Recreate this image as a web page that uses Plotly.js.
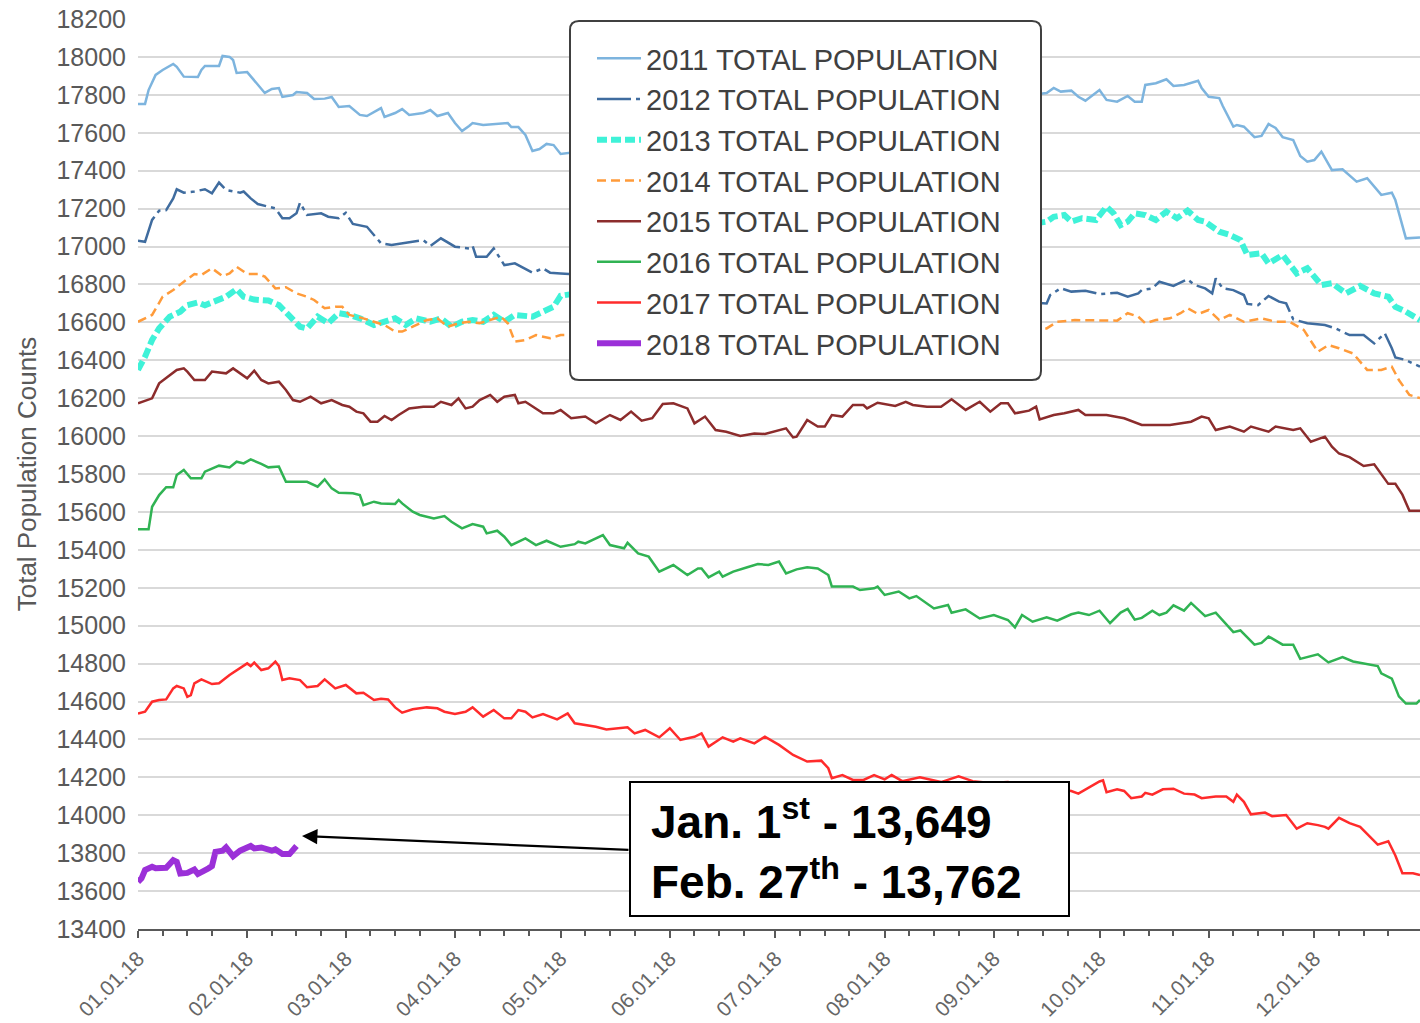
<!DOCTYPE html>
<html>
<head>
<meta charset="utf-8">
<script src="https://cdn.plot.ly/plotly-3.0.1.min.js"></script>
<style>html,body{margin:0;padding:0;background:#fff;}#chart{width:1420px;height:1023px;}</style>
</head>
<body>
<div id="chart"></div>
<script>
// ---- data (day offsets from 01.01.18) ----
const seriesNames = ["2011 TOTAL POPULATION","2012 TOTAL POPULATION","2013 TOTAL POPULATION","2014 TOTAL POPULATION","2015 TOTAL POPULATION","2016 TOTAL POPULATION","2017 TOTAL POPULATION","2018 TOTAL POPULATION"];
const monthLabels = ["01.01.18","02.01.18","03.01.18","04.01.18","05.01.18","06.01.18","07.01.18","08.01.18","09.01.18","10.01.18","11.01.18","12.01.18"];

const days2011 = [0,2,3,5,7,10,11,13,17,18,19,23,24,26,27,28,31,33,35,36,38,40,41,44,45,48,50,53,55,57,60,63,65,67,69,70,73,75,77,81,83,85,88,90,92,94,95,98,101,105,106,108,110,112,114,116,118,120,
 258,260,262,265,267,269,273,275,278,281,283,285,286,289,292,294,297,301,302,304,307,308,311,312,314,317,319,321,323,325,328,330,332,334,336,339,342,346,349,353,356,357,360,364];
const pop2011 = [17752,17752,17825,17905,17931,17963,17948,17896,17894,17931,17952,17952,18005,18000,17984,17915,17920,17878,17831,17810,17831,17836,17789,17799,17815,17810,17778,17780,17789,17736,17741,17694,17688,17710,17730,17683,17704,17725,17694,17704,17720,17688,17704,17651,17609,17636,17651,17641,17646,17651,17630,17630,17588,17504,17514,17541,17535,17488,
 17810,17836,17817,17822,17790,17769,17825,17773,17764,17794,17764,17764,17852,17861,17882,17847,17852,17874,17836,17790,17783,17741,17632,17641,17632,17577,17583,17646,17625,17577,17562,17477,17447,17456,17500,17403,17407,17342,17360,17272,17284,17245,17043,17048];

const days2012 = [0,2,4,6,8,10,11,13,16,19,21,23,25,29,30,32,34,37,39,41,43,45,46,48,52,54,57,59,61,65,69,72,76,81,83,86,90,94,95,96,99,101,104,107,112,115,117,120,
 258,259,262,265,269,273,278,281,284,285,288,290,294,298,300,303,305,306,308,311,314,315,318,321,324,326,328,332,337,340,344,348,351,354,356,357,360,364];
const pop2012 = [17030,17025,17140,17189,17192,17254,17302,17284,17290,17302,17281,17337,17298,17284,17290,17254,17224,17210,17201,17149,17149,17175,17231,17166,17175,17157,17149,17178,17119,17104,17017,17008,17020,17034,17003,17043,16999,16990,17003,16946,16946,16990,16902,16911,16862,16885,16862,16858,
 16700,16744,16780,16762,16767,16749,16756,16735,16753,16770,16779,16814,16792,16827,16797,16779,16753,16832,16779,16770,16744,16697,16691,16739,16709,16700,16616,16595,16586,16568,16533,16533,16489,16542,16463,16415,16401,16366];

const days2013 = [0,2,4,6,9,12,14,17,19,23,25,28,30,33,37,40,43,46,48,51,54,57,60,63,67,70,73,76,79,83,86,89,92,95,98,101,104,107,112,115,118,120,
 258,260,263,265,268,272,275,277,279,281,283,286,289,292,295,298,301,303,307,310,313,315,319,321,325,329,332,336,339,343,347,351,355,357,360,364];
const pop2013 = [16349,16419,16507,16568,16630,16656,16691,16705,16690,16715,16735,16775,16735,16720,16715,16691,16639,16577,16568,16630,16595,16648,16639,16621,16586,16603,16621,16586,16621,16603,16621,16577,16603,16612,16603,16639,16603,16639,16630,16656,16682,16740,
 17131,17157,17166,17131,17149,17140,17210,17175,17113,17131,17175,17166,17140,17184,17149,17189,17140,17131,17078,17061,17034,16955,16964,16911,16955,16858,16885,16797,16806,16753,16792,16753,16735,16682,16656,16612];

const days2014 = [0,4,7,10,13,16,18,21,24,26,28,31,34,36,39,42,45,48,50,53,56,58,60,64,67,70,73,75,78,82,85,88,91,94,97,100,103,105,107,110,113,117,120,
 258,261,266,272,278,281,284,286,289,293,296,298,301,304,307,310,314,319,323,327,331,335,338,341,345,349,353,356,358,361,364];
const pop2014 = [16603,16639,16735,16770,16814,16855,16850,16885,16844,16858,16893,16855,16855,16841,16779,16785,16753,16735,16718,16674,16682,16682,16639,16621,16603,16586,16551,16551,16577,16612,16621,16577,16595,16603,16595,16612,16630,16595,16498,16507,16533,16516,16533,
 16568,16603,16612,16612,16609,16648,16630,16595,16612,16621,16648,16674,16644,16665,16612,16639,16603,16621,16603,16603,16560,16445,16480,16463,16436,16349,16349,16366,16296,16217,16200];

const days2015 = [0,3,4,6,9,11,13,14,16,19,21,25,27,29,31,33,35,37,40,42,44,46,49,52,55,58,60,62,64,66,68,70,72,74,77,81,84,86,89,91,93,95,97,100,102,104,107,108,110,115,118,120,123,127,130,134,137,140,143,146,149,152,156,158,161,164,167,171,175,178,182,184,186,187,190,193,195,197,200,203,206,207,210,215,218,220,224,228,231,235,239,242,245,247,249,253,255,256,260,263,267,269,275,280,285,293,299,302,304,306,310,314,316,321,323,328,330,333,337,339,341,344,348,351,355,357,359,361,364];
const pop2015 = [16173,16194,16199,16278,16322,16349,16357,16340,16296,16296,16340,16331,16357,16331,16305,16345,16296,16278,16287,16243,16190,16181,16208,16173,16190,16164,16155,16129,16120,16076,16076,16106,16085,16111,16146,16155,16155,16181,16164,16199,16146,16155,16190,16217,16181,16208,16217,16173,16181,16120,16120,16138,16094,16103,16067,16111,16085,16129,16081,16094,16169,16173,16146,16067,16103,16032,16023,16001,16014,16011,16032,16041,15993,15997,16085,16050,16050,16111,16103,16164,16164,16146,16176,16159,16181,16164,16155,16155,16194,16138,16181,16129,16173,16173,16120,16134,16155,16088,16111,16120,16138,16111,16111,16094,16059,16059,16076,16103,16094,16032,16050,16023,16050,16023,16050,16032,16041,15970,15997,15944,15908,15889,15842,15851,15748,15748,15691,15606,15606];

const days2016 = [0,3,4,6,8,10,11,13,15,18,19,23,26,28,30,32,35,37,40,42,45,48,51,53,55,57,61,63,64,67,69,73,74,75,78,80,84,87,89,92,95,98,99,102,104,106,110,113,116,120,124,125,127,132,134,138,139,142,145,148,152,156,159,160,162,165,166,169,173,176,179,182,184,187,190,193,196,197,203,205,209,210,212,214,216,219,221,226,230,231,235,239,243,247,249,251,254,258,261,265,267,270,273,276,279,281,283,285,288,290,292,294,297,299,301,303,306,308,311,313,317,319,321,325,328,330,332,335,338,342,345,349,352,353,356,358,360,363,364];
const pop2016 = [15508,15508,15627,15689,15730,15730,15795,15821,15777,15777,15812,15844,15835,15865,15856,15877,15853,15835,15839,15759,15759,15759,15733,15772,15724,15701,15698,15689,15636,15654,15645,15642,15663,15645,15601,15584,15566,15578,15548,15513,15536,15522,15487,15501,15469,15425,15460,15425,15448,15416,15430,15443,15434,15478,15425,15408,15437,15381,15364,15285,15320,15267,15302,15302,15255,15285,15258,15285,15308,15325,15320,15338,15276,15297,15308,15302,15267,15206,15206,15188,15197,15206,15162,15171,15180,15144,15156,15091,15109,15068,15086,15038,15056,15030,14991,15056,15021,15044,15026,15060,15069,15056,15079,15013,15069,15088,15032,15041,15079,15056,15069,15107,15079,15120,15083,15050,15069,15026,14966,14975,14900,14909,14943,14900,14900,14825,14834,14849,14806,14834,14811,14796,14787,14749,14721,14627,14589,14589,14608];

const days2017 = [0,2,4,6,8,10,11,13,14,15,16,18,21,23,26,29,31,32,33,35,37,39,40,41,43,46,48,51,53,56,59,62,64,67,69,71,73,75,78,82,85,87,90,93,95,98,101,104,106,108,110,112,115,119,122,124,127,130,133,136,139,141,144,148,151,154,158,160,162,166,169,171,175,178,182,186,190,194,196,197,200,203,206,209,212,214,217,222,228,233,237,242,247,252,258,262,265,267,270,273,274,275,278,280,282,285,286,288,291,294,297,300,302,306,309,311,312,314,316,320,322,326,329,332,335,337,338,341,344,347,352,355,357,359,362,364];
const pop2017 = [14537,14546,14599,14608,14611,14669,14682,14669,14625,14634,14696,14717,14692,14696,14740,14775,14801,14787,14805,14766,14775,14810,14787,14713,14722,14713,14675,14682,14717,14669,14687,14643,14646,14608,14615,14611,14569,14541,14559,14569,14564,14546,14534,14546,14569,14520,14555,14511,14511,14555,14546,14516,14534,14506,14537,14485,14476,14467,14453,14459,14464,14432,14450,14411,14459,14397,14414,14432,14362,14411,14388,14406,14379,14414,14371,14318,14283,14288,14248,14195,14212,14186,14186,14212,14189,14212,14180,14200,14175,14205,14180,14170,14175,14160,14150,14135,14128,14114,14146,14178,14184,14122,14137,14128,14090,14099,14118,14109,14137,14140,14114,14109,14090,14099,14099,14071,14109,14071,14005,14014,13995,14001,13929,13958,13948,13939,13929,13986,13958,13939,13845,13863,13788,13694,13694,13685];

const days2018 = [0,1,2,4,5,8,10,11,12,14,16,17,20,21,22,24,25,27,29,32,33,35,38,39,41,43,45];
const pop2018 = [13649,13667,13711,13728,13720,13723,13763,13754,13693,13696,13714,13690,13720,13732,13807,13813,13830,13784,13813,13838,13825,13830,13813,13820,13795,13795,13838];

// ---- helpers ----
function dayToDate(d) {
  const t = Date.UTC(2018, 0, 1) + d * 86400000;
  return new Date(t).toISOString().slice(0, 10);
}
const monthStarts = monthLabels.map((_, i) => '2018-' + String(i + 1).padStart(2, '0') + '-01');
const minorTicks = [];
for (let m = 1; m <= 12; m++) {
  [8, 15, 22].forEach(d => minorTicks.push('2018-' + String(m).padStart(2, '0') + '-' + String(d).padStart(2, '0')));
}

const allDays = [days2011, days2012, days2013, days2014, days2015, days2016, days2017, days2018];
const allPops = [pop2011, pop2012, pop2013, pop2014, pop2015, pop2016, pop2017, pop2018];
const styles = [
  {color: '#7db4de', width: 2.5, dash: 'solid'},
  {color: '#3f6c9f', width: 2.5, dash: '34px,5px,4px,5px'},
  {color: '#3ff2d8', width: 6, dash: '10px,4px'},
  {color: '#ff9b3a', width: 2.5, dash: '9px,5px'},
  {color: '#8c2c2c', width: 2.5, dash: 'solid'},
  {color: '#30b353', width: 2.5, dash: 'solid'},
  {color: '#ff2b2b', width: 2.5, dash: 'solid'},
  {color: '#9b30d8', width: 6, dash: 'solid'}
];

const traces = seriesNames.map((name, i) => ({
  type: 'scatter', mode: 'lines', name: name,
  x: allDays[i].map(dayToDate), y: allPops[i],
  line: styles[i], hoverinfo: 'x+y+name'
}));

// ---- layout geometry (pixels -> paper) ----
const L = 138, R = 1420, T = 19, B = 929;
const px = v => (v - L) / (R - L);
const py = v => (B - v) / (B - T);
function roundRect(x0, y0, x1, y1, r) {
  const rx = r / (R - L), ry = r / (B - T);
  const X0 = px(x0), X1 = px(x1), Y0 = py(y0), Y1 = py(y1);
  return `M${X0 + rx},${Y0} L${X1 - rx},${Y0} Q${X1},${Y0} ${X1},${Y0 - ry} L${X1},${Y1 + ry} Q${X1},${Y1} ${X1 - rx},${Y1} L${X0 + rx},${Y1} Q${X0},${Y1} ${X0},${Y1 + ry} L${X0},${Y0 - ry} Q${X0},${Y0} ${X0 + rx},${Y0} Z`;
}

const fontFam = 'Arial, "Liberation Sans", sans-serif';
const layout = {
  width: 1420, height: 1023,
  margin: {l: L, r: 1420 - R, t: T, b: 1023 - B, pad: 0},
  paper_bgcolor: '#ffffff', plot_bgcolor: '#ffffff',
  font: {family: fontFam, color: '#595959'},
  showlegend: true,
  xaxis: {
    type: 'date', range: ['2018-01-01', '2018-12-31'],
    tickmode: 'array', tickvals: monthStarts, ticktext: monthLabels,
    tickangle: -45, tickfont: {size: 21, color: '#666666'},
    ticks: 'outside', ticklen: 7, tickwidth: 2, tickcolor: '#595959',
    minor: {tickmode: 'array', tickvals: minorTicks, ticks: 'outside', ticklen: 5, tickwidth: 2, tickcolor: '#595959', showgrid: false},
    showgrid: false, zeroline: false,
    showline: true, linecolor: '#595959', linewidth: 2,
    fixedrange: true
  },
  yaxis: {
    range: [13400, 18200], tickmode: 'linear', tick0: 13400, dtick: 200,
    tickformat: 'd', tickfont: {size: 25, color: '#595959'},
    ticks: '', ticklabelstandoff: 11,
    showgrid: true, gridcolor: '#d9d9d9', gridwidth: 2,
    zeroline: false, showline: false,
    title: {text: 'Total Population Counts', font: {size: 26, color: '#595959'}, standoff: 12},
    fixedrange: true
  },
  legend: {
    x: px(592), y: py(33), xanchor: 'left', yanchor: 'top',
    bgcolor: 'rgba(0,0,0,0)', borderwidth: 0,
    font: {size: 29, color: '#404040', family: fontFam},
    itemwidth: 44, tracegroupgap: 0
  },
  shapes: [
    {type: 'path', xref: 'paper', yref: 'paper', layer: 'above',
     path: roundRect(570, 21, 1041, 380, 9),
     fillcolor: '#ffffff', line: {color: '#404040', width: 2}},
    {type: 'rect', xref: 'paper', yref: 'paper', layer: 'above',
     x0: px(630), x1: px(1069), y0: py(916), y1: py(782),
     fillcolor: '#ffffff', line: {color: '#000000', width: 2}}
  ],
  annotations: [
    {xref: 'paper', yref: 'paper', x: px(649), y: py(849), xanchor: 'left', yanchor: 'middle',
     align: 'left', showarrow: false,
     text: '<b>Jan. 1<sup>st</sup> - 13,649</b><br><b>Feb. 27<sup>th</sup> - 13,762</b>',
     font: {size: 46, color: '#000000', family: fontFam}},
    {xref: 'paper', yref: 'paper', x: px(302), y: py(836), text: '',
     showarrow: true, arrowhead: 2, arrowsize: 1.4, arrowwidth: 2.2, arrowcolor: '#000000',
     ax: 630 - 302, ay: 850 - 836, standoff: 0}
  ]
};

Plotly.newPlot('chart', traces, layout, {displayModeBar: false, staticPlot: true});
</script>
</body>
</html>
